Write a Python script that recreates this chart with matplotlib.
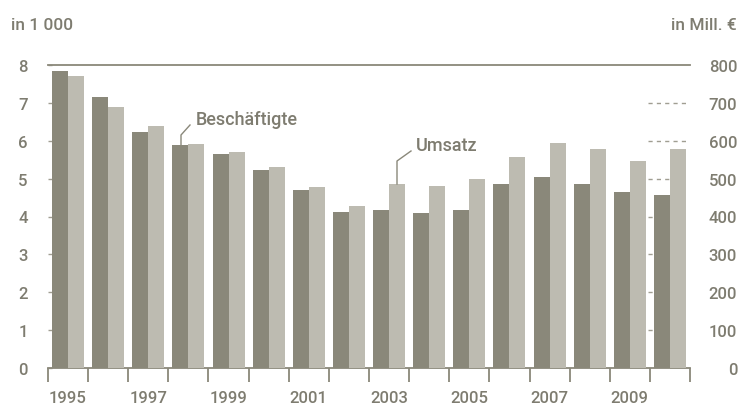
import matplotlib
matplotlib.use("Agg")
import matplotlib.pyplot as plt
import numpy as np

years = list(range(1995, 2011))
beschaeftigte = [7.85, 7.16, 6.22, 5.88, 5.64, 5.24, 4.71, 4.13, 4.16, 4.09, 4.16, 4.85, 5.04, 4.85, 4.66, 4.58]
umsatz = [772, 690, 640, 592, 569, 530, 478, 429, 485, 481, 500, 557, 595, 579, 546, 579]
left_ticks = [0, 1, 2, 3, 4, 5, 6, 7, 8]
right_ticks = [0, 100, 200, 300, 400, 500, 600, 700, 800]
year_labels = ["1995", "1997", "1999", "2001", "2003", "2005", "2007", "2009"]

DARK = "#8a887a"
LIGHT = "#bdbbb1"
TEXT = "#7e7c70"
FONT = "Roboto"

plt.rcParams['font.family'] = [FONT, 'DejaVu Sans']
plt.rcParams['font.weight'] = 'medium'

W, H = 741, 406
fig = plt.figure(figsize=(W / 100, H / 100), dpi=100)
x0, x1, y0, y1 = 48, 690, 369, 66
ax = fig.add_axes([x0 / W, (H - y0) / H, (x1 - x0) / W, (y0 - y1) / H])
ax2 = ax.twinx()

x = np.arange(len(years))
ax2.set_zorder(ax.get_zorder() - 1)
ax.patch.set_visible(False)

ax.bar(x - 0.2, beschaeftigte, width=0.4, color=DARK, zorder=3)
ax.bar(x + 0.2, [u / 100 for u in umsatz], width=0.4, color=LIGHT, zorder=3)

ax.set_xlim(-0.5, len(years) - 0.5)
ax.set_ylim(0, 8)
ax2.set_ylim(0, 800)

# right-side short dashed grid segments
for t in right_ticks[1:-1]:
    ax.plot([len(years) - 1.55, len(years) - 0.5], [t / 100, t / 100], color="#a09e92",
            lw=1.0, ls=(0, (3, 3)), zorder=1)

for s in ["left", "right"]:
    ax.spines[s].set_visible(False)
    ax2.spines[s].set_visible(False)
ax2.spines["top"].set_visible(False)
ax2.spines["bottom"].set_visible(False)
ax.spines["top"].set_color(DARK)
ax.spines["bottom"].set_color(DARK)
ax.spines["top"].set_linewidth(1.3)
ax.spines["bottom"].set_linewidth(1.3)

# left axis
ax.set_yticks(left_ticks)
ax.set_yticklabels([str(t) for t in left_ticks])
ax.tick_params(axis="y", direction="in", length=3, width=1, color="#a09e92",
               labelsize=12, labelcolor=TEXT, pad=18)
for lab in ax.get_yticklabels():
    lab.set_horizontalalignment("center")

# right axis
ax2.set_yticks(right_ticks)
ax2.set_yticklabels([str(t) for t in right_ticks])
ax2.tick_params(axis="y", direction="in", length=0, labelsize=12, labelcolor=TEXT, pad=34)
for lab in ax2.get_yticklabels():
    lab.set_horizontalalignment("right")

# x axis
ax.set_xticks(np.arange(0, len(years), 2))
ax.set_xticklabels(year_labels)
ax.set_xticks(np.arange(-0.5, len(years), 1), minor=True)
ax.tick_params(axis="x", which="major", length=0, labelsize=12, labelcolor=TEXT, pad=16)
ax.tick_params(axis="x", which="minor", length=10, width=1.3, color=DARK, direction="out")

# unit labels
fig.text(11 / W, 1 - 30 / H, "in 1 000", color=TEXT, fontsize=12.5, ha="left", va="baseline")
fig.text(737 / W, 1 - 30 / H, "in Mill. €", color=TEXT, fontsize=12.5, ha="right", va="baseline")

# annotations
lc = "#8a887a"
fig.add_artist(plt.Line2D([181 / W, 181 / W, 190 / W], [1 - 146 / H, 1 - 136 / H, 1 - 126 / H],
                          color=lc, lw=1.0))
fig.text(196 / W, 1 - 125 / H, "Beschäftigte", color=TEXT, fontsize=13, ha="left", va="baseline")
fig.add_artist(plt.Line2D([397 / W, 397 / W, 411 / W], [1 - 185 / H, 1 - 162 / H, 1 - 152 / H],
                          color=lc, lw=1.0))
fig.text(416 / W, 1 - 151 / H, "Umsatz", color=TEXT, fontsize=13, ha="left", va="baseline")

fig.savefig("out.png", dpi=100)
